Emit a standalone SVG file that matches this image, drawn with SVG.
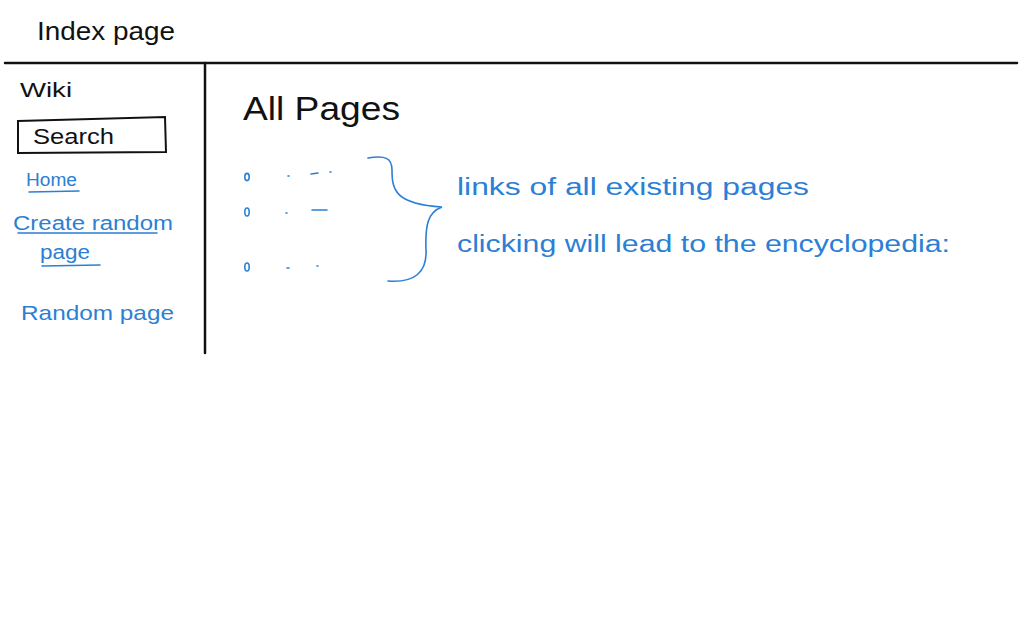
<svg xmlns="http://www.w3.org/2000/svg" width="1024" height="640" viewBox="0 0 1024 640">
<style>
.k{font-family:"Liberation Sans",Arial,sans-serif;fill:#111;font-weight:normal}
.b{font-family:"Liberation Sans",Arial,sans-serif;fill:#2b7fd4}
.ln{stroke:#111;stroke-width:2.5;fill:none;stroke-linecap:round}
.bl{stroke:#2b7fd4;stroke-width:1.6;fill:none;stroke-linecap:round}
</style>
<rect width="1024" height="640" fill="#fff"/>
<g id="title"><text class="k" x="37" y="40" font-size="26" textLength="138" lengthAdjust="spacingAndGlyphs">Index page</text></g>
<g id="frame">
<path class="ln" d="M5 63 L1017 63"/>
<path class="ln" d="M205 63 L205 353"/>
</g>
<g id="sidebar">
<text class="k" x="20" y="97" font-size="20" textLength="52" lengthAdjust="spacingAndGlyphs">Wiki</text>
<g id="search">
<path d="M18 121 L165 117 L166 152 L18 153 Z" fill="none" stroke="#111" stroke-width="2"/>
<text class="k" x="33" y="144" font-size="22" textLength="81" lengthAdjust="spacingAndGlyphs">Search</text>
</g>
<g id="home">
<text class="b" x="26" y="186" font-size="18" textLength="51" lengthAdjust="spacingAndGlyphs">Home</text>
<path class="bl" d="M29 192 L79 191"/>
</g>
<g id="create">
<text class="b" x="13" y="230" font-size="20" textLength="160" lengthAdjust="spacingAndGlyphs">Create random</text>
<path class="bl" d="M18 233 L157 233"/>
<text class="b" x="40" y="259" font-size="20" textLength="50" lengthAdjust="spacingAndGlyphs">page</text>
<path class="bl" d="M42 266 L100 265"/>
</g>
<g id="random"><text class="b" x="21" y="320" font-size="21" textLength="153" lengthAdjust="spacingAndGlyphs">Random page</text></g>
</g>
<g id="main">
<text class="k" x="243" y="120" font-size="34" textLength="157" lengthAdjust="spacingAndGlyphs">All Pages</text>
<g id="list">
<ellipse cx="247" cy="177" rx="2.2" ry="3.6" class="bl"/>
<ellipse cx="247" cy="212" rx="2.2" ry="4" class="bl"/>
<ellipse cx="247" cy="267" rx="2.2" ry="4" class="bl"/>
<path class="bl" d="M288 176 L289 176 M311 174 L318 173 M330 172 L331 172"/>
<path class="bl" d="M286 213 L287 213 M312 210 L327 210"/>
<path class="bl" d="M287 268 L289 268 M317 266 L318 266"/>
</g>
</g>
<g id="connectors">
<path class="bl" d="M368 158 C385 155 392 158 392 170 C392 190 395 204 442 207 C428 212 425 225 426 250 C427 272 415 283 388 281"/>
</g>
<g id="note">
<text class="b" x="457" y="195" font-size="23" textLength="352" lengthAdjust="spacingAndGlyphs">links of all existing pages</text>
<text class="b" x="457" y="252" font-size="23" textLength="493" lengthAdjust="spacingAndGlyphs">clicking will lead to the encyclopedia:</text>
</g>
</svg>
